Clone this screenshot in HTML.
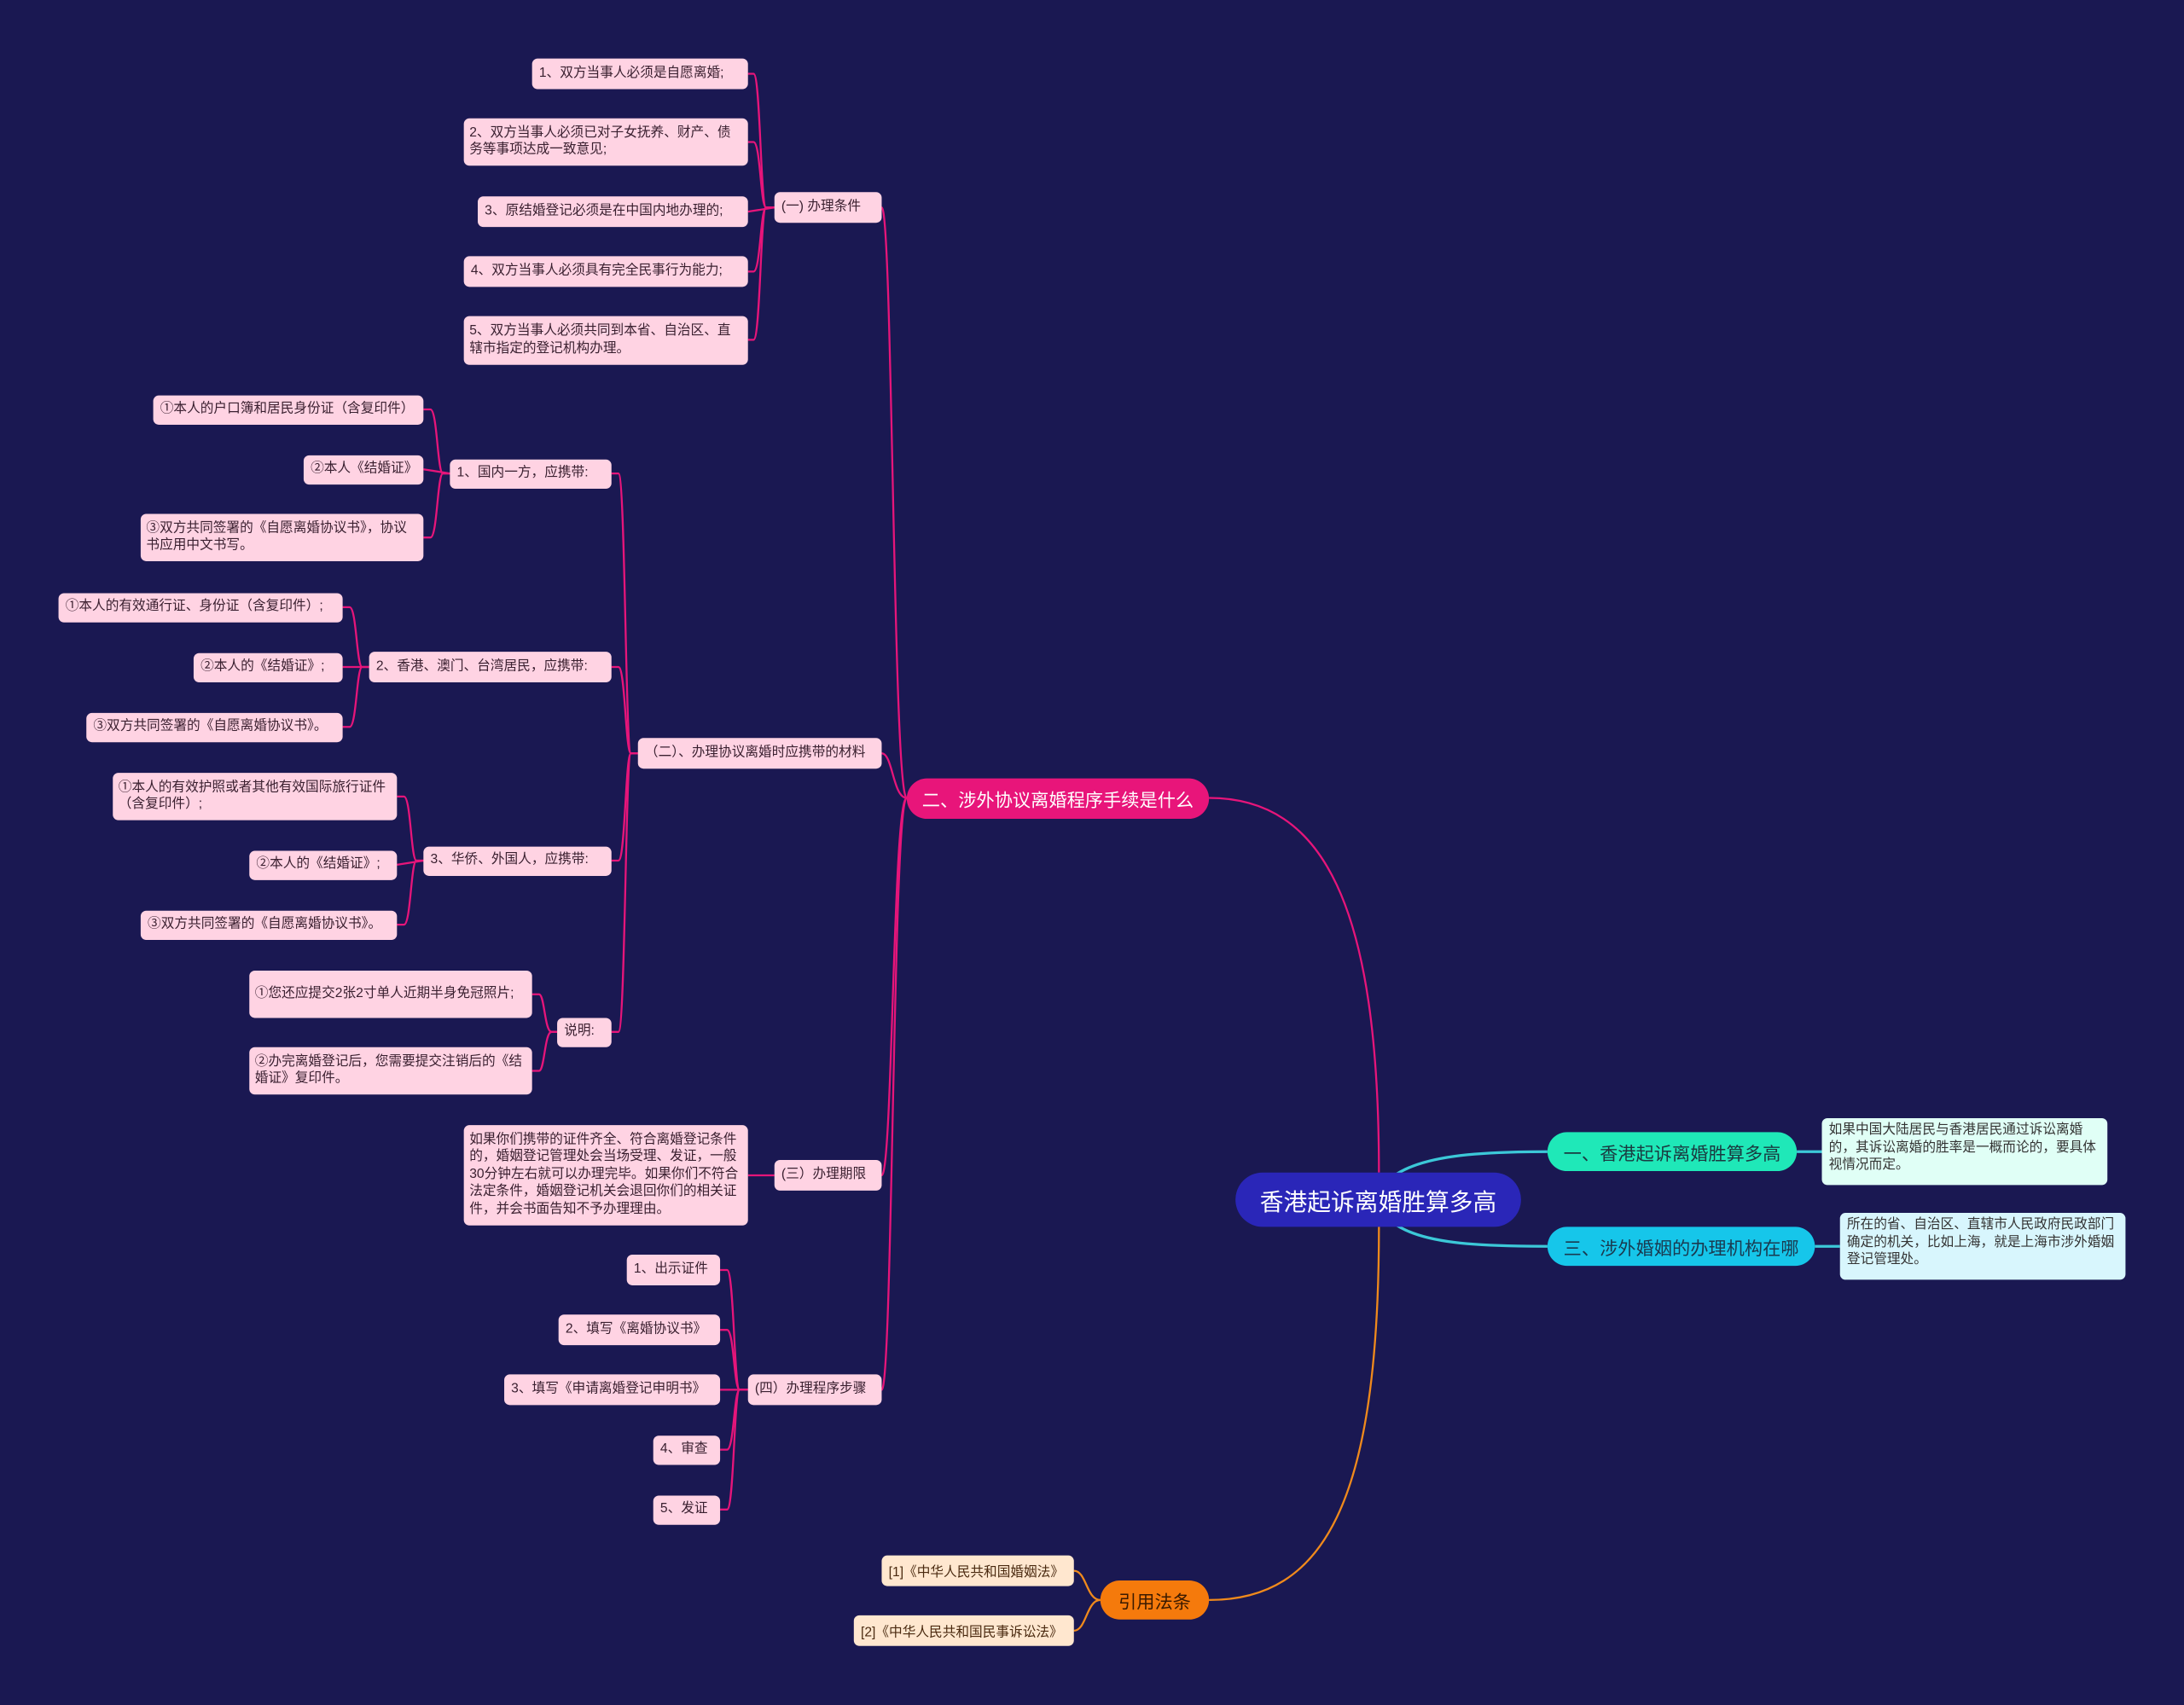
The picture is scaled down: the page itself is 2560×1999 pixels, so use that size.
<!DOCTYPE html>
<html><head><meta charset="utf-8">
<style>
html,body{margin:0;padding:0;background:#1a1852;}
body{width:2560px;height:1999px;overflow:hidden;position:relative;}
#s{position:absolute;left:0;top:0;width:1568px;height:1224px;transform:scale(1.632653);transform-origin:0 0;font-family:"Liberation Sans","Noto Sans CJK SC",sans-serif;}
.n{position:absolute;box-sizing:border-box;background:#ffd3e3;color:#3a2030;border-radius:4px;font-size:9.6px;line-height:12.5px;padding:0 5px;display:flex;align-items:center;white-space:nowrap;}
.m{white-space:normal;padding:2px 4px;}
.b{position:absolute;box-sizing:border-box;border-radius:15px;display:flex;align-items:center;justify-content:center;white-space:nowrap;}
.t{position:absolute;box-sizing:border-box;border-radius:4px;font-size:9.6px;line-height:12.5px;padding:3px 5px;color:#333;}
.o{position:absolute;box-sizing:border-box;background:#ffe7cf;color:#4a2a10;border-radius:4px;font-size:9.6px;display:flex;align-items:center;padding:0 5px;white-space:nowrap;}
svg{position:absolute;left:0;top:0;}
</style></head><body><div id="s">
<svg width="1568" height="1224" fill="none" stroke-width="1.4">
<g stroke="#e6157a">
<path d="M990,842 C990,650 950,573 868,573"/>
<path d="M651,573 C641,573 641,149 633,149"/>
<path d="M651,573 C641,573 641,541 633,541"/>
<path d="M651,573 C641,573 641,844 633,844"/>
<path d="M651,573 C641,573 641,998 633,998"/>
<path d="M556,149 H550 C546,149 546,53 541,53 H537"/>
<path d="M556,149 H550 C546,149 546,102 541,102 H537"/>
<path d="M556,149 L537,152"/>
<path d="M556,149 H550 C546,149 546,195 541,195 H537"/>
<path d="M556,149 H550 C546,149 546,244 541,244 H537"/>
<path d="M458,541 H453 C449,541 449,340 444,340 H439"/>
<path d="M458,541 H453 C449,541 449,479 444,479 H439"/>
<path d="M458,541 H453 C449,541 449,618 444,618 H439"/>
<path d="M458,541 H453 C449,541 449,741 444,741 H439"/>
<path d="M323,340 H318 C314,340 314,294 309,294 H304"/>
<path d="M323,340 L304,337"/>
<path d="M323,340 H318 C314,340 314,386 309,386 H304"/>
<path d="M265,479 H260 C256,479 256,436 251,436 H246"/>
<path d="M265,479 L246,479"/>
<path d="M265,479 H260 C256,479 256,522 251,522 H246"/>
<path d="M304,618 H299 C295,618 295,572 290,572 H285"/>
<path d="M304,618 L285,621"/>
<path d="M304,618 H299 C295,618 295,664 290,664 H285"/>
<path d="M400,741 H396 C391,741 391,714 387,714 H382"/>
<path d="M400,741 H396 C391,741 391,769 387,769 H382"/>
<path d="M556,844 L537,844"/>
<path d="M537,998 H531 C527,998 527,912 522,912 H517"/>
<path d="M537,998 H531 C527,998 527,955 522,955 H517"/>
<path d="M537,998 L517,998"/>
<path d="M537,998 H531 C527,998 527,1041 522,1041 H517"/>
<path d="M537,998 H531 C527,998 527,1084 522,1084 H517"/>
</g>
<g stroke="#f08a1c">
<path d="M990,881 C990,1080 950,1149 868,1149"/>
<path d="M790,1149 C780,1149 780,1128 771,1128"/>
<path d="M790,1149 C780,1149 780,1171 771,1171"/>
</g>
<g stroke="#3cc8d8" stroke-width="2">
<path d="M1000,845 C1020,830 1060,827 1111,827"/>
<path d="M1000,878 C1020,893 1060,895 1111,895"/>
<path d="M1290,827 L1308,827"/>
<path d="M1303,895 L1321,895"/>
</g>
</svg>

<div class="n" style="left:382px;top:42px;width:155px;height:22px">1、双方当事人必须是自愿离婚;</div>
<div class="n m" style="left:333px;top:85px;width:204px;height:34px">2、双方当事人必须已对子女抚养、财产、债务等事项达成一致意见;</div>
<div class="n" style="left:343px;top:141px;width:194px;height:22px">3、原结婚登记必须是在中国内地办理的;</div>
<div class="n" style="left:333px;top:184px;width:204px;height:22px">4、双方当事人必须具有完全民事行为能力;</div>
<div class="n m" style="left:333px;top:227px;width:204px;height:35px">5、双方当事人必须共同到本省、自治区、直辖市指定的登记机构办理。</div>
<div class="n" style="left:556px;top:138px;width:77px;height:22px">(一) 办理条件</div>

<div class="n" style="left:110px;top:284px;width:194px;height:21px">①本人的户口簿和居民身份证（含复印件）</div>
<div class="n" style="left:218px;top:327px;width:86px;height:21px">②本人《结婚证》</div>
<div class="n m" style="left:101px;top:369px;width:203px;height:34px">③双方共同签署的《自愿离婚协议书》，协议书应用中文书写。</div>
<div class="n" style="left:323px;top:330px;width:116px;height:21px">1、国内一方，应携带:</div>

<div class="n" style="left:42px;top:426px;width:204px;height:21px">①本人的有效通行证、身份证（含复印件）;</div>
<div class="n" style="left:139px;top:469px;width:107px;height:21px">②本人的《结婚证》;</div>
<div class="n" style="left:62px;top:512px;width:184px;height:21px">③双方共同签署的《自愿离婚协议书》。</div>
<div class="n" style="left:265px;top:468px;width:174px;height:22px">2、香港、澳门、台湾居民，应携带:</div>

<div class="n m" style="left:81px;top:555px;width:204px;height:34px">①本人的有效护照或者其他有效国际旅行证件（含复印件）;</div>
<div class="n" style="left:179px;top:611px;width:106px;height:21px">②本人的《结婚证》;</div>
<div class="n" style="left:101px;top:654px;width:184px;height:21px">③双方共同签署的《自愿离婚协议书》。</div>
<div class="n" style="left:304px;top:608px;width:135px;height:21px">3、华侨、外国人，应携带:</div>

<div class="n m" style="left:179px;top:697px;width:203px;height:34px">①您还应提交2张2寸单人近期半身免冠照片;</div>
<div class="n m" style="left:179px;top:752px;width:203px;height:34px">②办完离婚登记后，您需要提交注销后的《结婚证》复印件。</div>
<div class="n" style="left:400px;top:731px;width:39px;height:21px">说明:</div>
<div class="n" style="left:458px;top:530px;width:175px;height:22px">（二）、办理协议离婚时应携带的材料</div>

<div class="n m" style="left:333px;top:808px;width:204px;height:72px;line-height:12.5px">如果你们携带的证件齐全、符合离婚登记条件的，婚姻登记管理处会当场受理、发证，一般30分钟左右就可以办理完毕。如果你们不符合法定条件，婚姻登记机关会退回你们的相关证件，并会书面告知不予办理理由。</div>
<div class="n" style="left:556px;top:833px;width:77px;height:22px">(三）办理期限</div>

<div class="n" style="left:450px;top:901px;width:67px;height:22px">1、出示证件</div>
<div class="n" style="left:401px;top:944px;width:116px;height:22px">2、填写《离婚协议书》</div>
<div class="n" style="left:362px;top:987px;width:155px;height:22px">3、填写《申请离婚登记申明书》</div>
<div class="n" style="left:469px;top:1031px;width:48px;height:21px">4、审查</div>
<div class="n" style="left:469px;top:1074px;width:48px;height:21px">5、发证</div>
<div class="n" style="left:537px;top:987px;width:96px;height:22px">(四）办理程序步骤</div>

<div class="b" style="left:651px;top:559px;width:217px;height:29px;background:#e8157a;color:#fff;font-size:13px">二、涉外协议离婚程序手续是什么</div>
<div class="b" style="left:887px;top:842px;width:205px;height:39px;border-radius:20px;background:#2a26b8;color:#fff;font-size:17px">香港起诉离婚胜算多高</div>
<div class="b" style="left:1111px;top:813px;width:179px;height:28px;background:#1fe8b8;color:#1a3a40;font-size:13px">一、香港起诉离婚胜算多高</div>
<div class="b" style="left:1111px;top:881px;width:192px;height:28px;background:#16c6ea;color:#1a3a50;font-size:13px">三、涉外婚姻的办理机构在哪</div>
<div class="t" style="left:1308px;top:803px;width:205px;height:48px;background:#e0fff6">如果中国大陆居民与香港居民通过诉讼离婚的，其诉讼离婚的胜率是一概而论的，要具体视情况而定。</div>
<div class="t" style="left:1321px;top:871px;width:205px;height:48px;background:#d8f6fd">所在的省、自治区、直辖市人民政府民政部门确定的机关，比如上海，就是上海市涉外婚姻登记管理处。</div>

<div class="b" style="left:790px;top:1135px;width:78px;height:28px;background:#f57a0c;color:#3a1a00;font-size:13px">引用法条</div>
<div class="o" style="left:633px;top:1117px;width:138px;height:22px">[1]《中华人民共和国婚姻法》</div>
<div class="o" style="left:613px;top:1160px;width:158px;height:22px">[2]《中华人民共和国民事诉讼法》</div>
</div></body></html>
